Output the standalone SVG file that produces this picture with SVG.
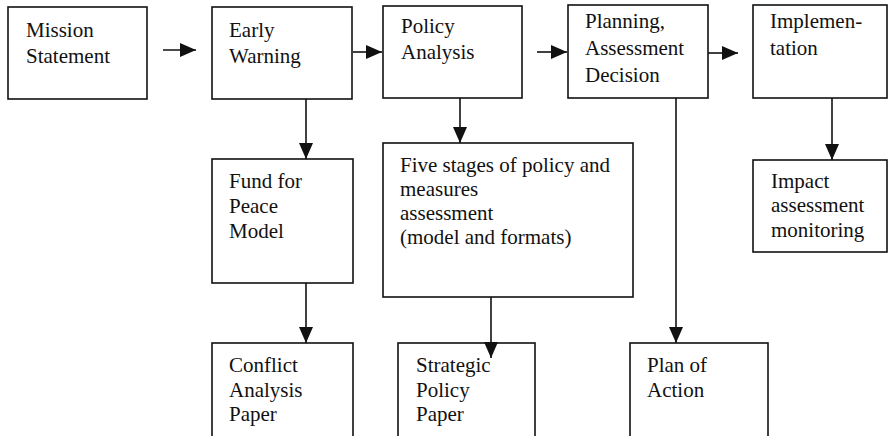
<svg xmlns="http://www.w3.org/2000/svg" width="890" height="436" viewBox="0 0 890 436">
<style>
.box{fill:#fff;stroke:#111;stroke-width:1.6}
.t{font-family:"Liberation Serif","Times New Roman",serif;font-size:21px;fill:#111}
.c{stroke:#111;stroke-width:1.6;fill:none;marker-end:url(#ah)}
</style>
<defs>
<marker id="ah" markerUnits="userSpaceOnUse" markerWidth="16" markerHeight="14" refX="16" refY="7" orient="auto">
<path d="M0,0 L16,7 L0,14 z" fill="#111"/>
</marker>
</defs>
<rect width="890" height="436" fill="#fff"/>
<g id="mission"><rect class="box" x="8" y="7" width="139" height="92"/><text class="t" x="26" y="37">Mission</text><text class="t" x="26" y="63">Statement</text></g>
<g id="early"><rect class="box" x="212" y="7" width="140" height="92"/><text class="t" x="229" y="37">Early</text><text class="t" x="229" y="63">Warning</text></g>
<g id="policy"><rect class="box" x="383" y="6" width="139" height="92"/><text class="t" x="401" y="33">Policy</text><text class="t" x="401" y="59">Analysis</text></g>
<g id="planning"><rect class="box" x="568" y="5" width="140" height="93"/><text class="t" x="585" y="28">Planning,</text><text class="t" x="585" y="55">Assessment</text><text class="t" x="585" y="82">Decision</text></g>
<g id="implementation"><rect class="box" x="753" y="5" width="134" height="93"/><text class="t" x="770" y="28">Implemen-</text><text class="t" x="770" y="55">tation</text></g>
<g id="fund"><rect class="box" x="212" y="159" width="141" height="124"/><text class="t" x="229" y="188">Fund for</text><text class="t" x="229" y="213">Peace</text><text class="t" x="229" y="238">Model</text></g>
<g id="five"><rect class="box" x="383" y="143" width="250" height="154"/><text class="t" x="400" y="172">Five stages of policy and</text><text class="t" x="400" y="196">measures</text><text class="t" x="400" y="220">assessment</text><text class="t" x="400" y="244">(model and formats)</text></g>
<g id="impact"><rect class="box" x="753" y="160" width="134" height="92"/><text class="t" x="771" y="188">Impact</text><text class="t" x="771" y="212">assessment</text><text class="t" x="771" y="237">monitoring</text></g>
<g id="conflict"><rect class="box" x="212" y="343" width="141" height="110"/><text class="t" x="229" y="372">Conflict</text><text class="t" x="229" y="397">Analysis</text><text class="t" x="229" y="421">Paper</text></g>
<g id="strategic"><rect class="box" x="398" y="343" width="137" height="110"/><text class="t" x="416" y="372">Strategic</text><text class="t" x="416" y="397">Policy</text><text class="t" x="416" y="421">Paper</text></g>
<g id="plan"><rect class="box" x="630" y="343" width="138" height="110"/><text class="t" x="647" y="372">Plan of</text><text class="t" x="647" y="397">Action</text></g>
<g id="connectors">
<line class="c" x1="163" y1="50" x2="196" y2="50"/>
<line class="c" x1="353" y1="52" x2="382" y2="52"/>
<line class="c" x1="537" y1="52" x2="567" y2="52"/>
<line class="c" x1="708" y1="53" x2="738" y2="53"/>
<line class="c" x1="306" y1="99" x2="306" y2="159"/>
<line class="c" x1="306" y1="283" x2="306" y2="343"/>
<line class="c" x1="460" y1="98" x2="460" y2="143"/>
<line class="c" x1="491" y1="297" x2="491" y2="358"/>
<line class="c" x1="676" y1="98" x2="676" y2="343"/>
<line class="c" x1="832" y1="98" x2="832" y2="160"/>
</g>
</svg>
